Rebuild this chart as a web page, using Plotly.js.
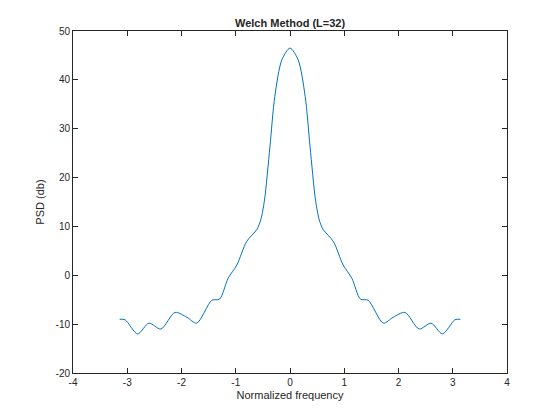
<!DOCTYPE html>
<html>
<head>
<script src="https://cdn.plot.ly/plotly-3.0.1.min.js"></script>
<style>body{margin:0}</style>
</head>
<body>
<div id="chart" style="width:560px;height:420px"></div>
<script>
// left half, the PSD is symmetric about 0
var freqLeft = [-3.14, -3.04, -2.81, -2.6, -2.38, -2.12, -1.9, -1.72, -1.44, -1.3, -1.14, -0.98, -0.8, -0.61, -0.54, -0.47, -0.37, -0.28, -0.15, 0];
var psdLeft = [-9.0, -9.1, -12.0, -9.8, -11.0, -7.6, -8.6, -9.8, -5.1, -4.9, -0.6, 2.1, 6.9, 9.4, 11.3, 15.4, 26.3, 36.6, 44.1, 46.5];
var xTicks = [-4, -3, -2, -1, 0, 1, 2, 3, 4];
var yTicks = [-20, -10, 0, 10, 20, 30, 40, 50];

var freq = freqLeft.slice();
var psd = psdLeft.slice();
for (var i = freqLeft.length - 2; i >= 0; i--) {
    freq.push(-freqLeft[i]);
    psd.push(psdLeft[i]);
}

var trace = {
    x: freq, y: psd, type: 'scatter', mode: 'lines',
    line: {color: '#0072bd', width: 1, shape: 'spline', smoothing: 0.8}
};

var axisStyle = {
    showgrid: false, zeroline: false, showline: true, mirror: 'ticks',
    linecolor: '#262626', linewidth: 1, ticks: 'inside', ticklen: 5,
    tickcolor: '#262626', tickfont: {size: 10, color: '#262626'}
};

var layout = {
    width: 560, height: 420,
    margin: {l: 73, r: 53, t: 31, b: 47},
    paper_bgcolor: 'white', plot_bgcolor: 'white',
    font: {family: 'Liberation Sans, Arial, sans-serif', color: '#262626'},
    title: {text: '<b>Welch Method (L=32)</b>', font: {size: 11}, x: 0.518, y: 0.955},
    showlegend: false,
    xaxis: Object.assign({}, axisStyle, {range: [-4, 4],
        tickmode: 'array', tickvals: xTicks, ticktext: xTicks.map(String),
        title: {text: 'Normalized frequency', font: {size: 11}, standoff: 4}}),
    yaxis: Object.assign({}, axisStyle, {range: [-20, 50],
        tickmode: 'array', tickvals: yTicks, ticktext: yTicks.map(String),
        title: {text: 'PSD (db)', font: {size: 11}, standoff: 8}})
};

Plotly.newPlot('chart', [trace], layout, {displayModeBar: false, staticPlot: true});
</script>
</body>
</html>
